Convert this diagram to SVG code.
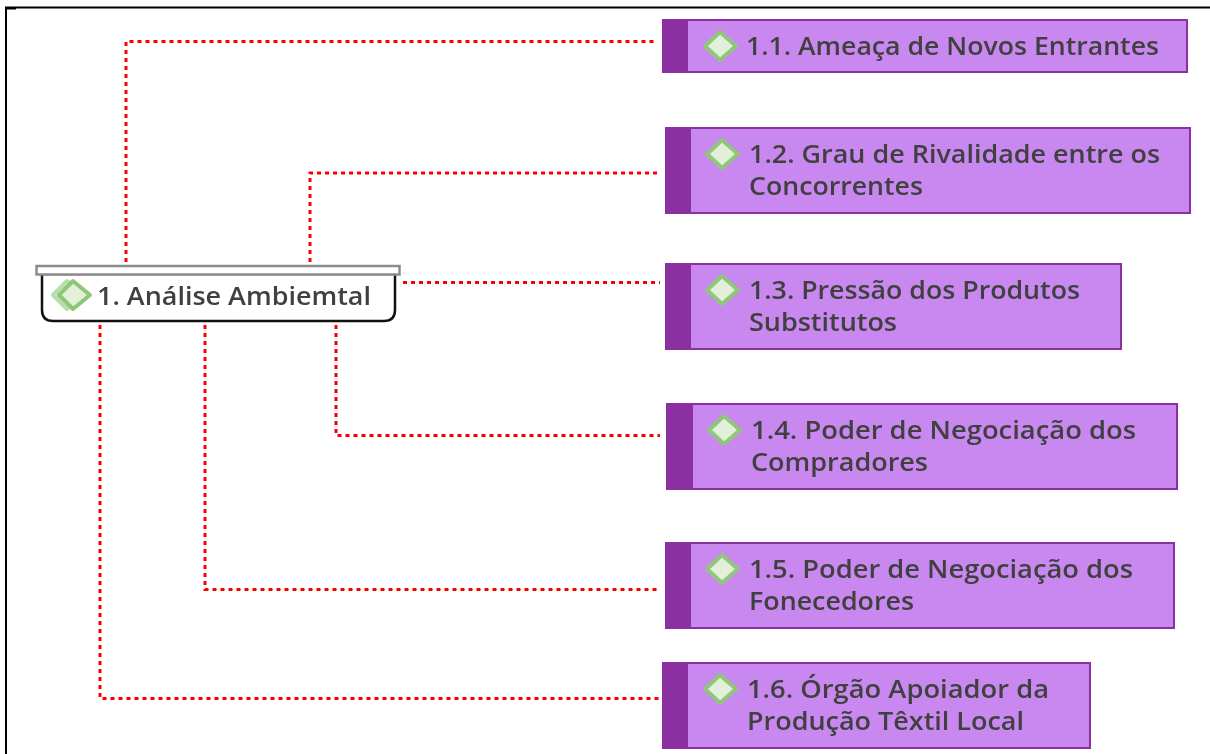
<svg xmlns="http://www.w3.org/2000/svg" width="1210" height="754" viewBox="0 0 1210 754">
<defs><filter id="soft" x="-5%" y="-20%" width="110%" height="140%"><feGaussianBlur stdDeviation="0.35"/></filter>
<filter id="softer" x="-20%" y="-20%" width="140%" height="140%"><feGaussianBlur stdDeviation="0.7"/></filter></defs>
<style>
.t{font-family:"Open Sans","Noto Sans","Liberation Sans",sans-serif;font-size:25px;font-weight:600;fill:#404040;filter:url(#soft)}
.c{fill:none;stroke:#ff0000;stroke-width:3;stroke-dasharray:4 4}
.b{fill:#c888f0;stroke:#8b30a0;stroke-width:2}
.s{fill:#8b30a0}
.d{fill:#e2f0da;stroke:#8fc67c;stroke-width:4;stroke-linejoin:round;filter:url(#softer)}
</style>
<rect width="1210" height="754" fill="#fff"/>
<path d="M6 754V7.500H1210" fill="none" stroke="#000" stroke-width="2"/>
<path d="M6 8.500H16" fill="none" stroke="#000" stroke-width="2"/>
<g id="connectors">
<path class="c" d="M126 262V41.500H656"/>
<path class="c" d="M310 262V173H660"/>
<path class="c" d="M403 282.500H660"/>
<path class="c" d="M336 325V435.500H660"/>
<path class="c" d="M205 325V589.500H660"/>
<path class="c" d="M100 325V698.500H660"/>
</g>
<g id="n1">
<path d="M42 274V310Q42 321 53 321H384Q395 321 395 310V274Z" fill="#fff" stroke="#111" stroke-width="2.500"/>
<rect x="36.500" y="266" width="363" height="8.500" fill="#fff" stroke="#8c8c8c" stroke-width="2.500"/>
<path class="d" d="M67 281L53 295L67 309L81 295Z" style="stroke:#b5dfa8"/>
<path class="d" d="M73 281L59 295L73 309L90 295Z"/>
<text class="t" x="97" y="305" textLength="274" lengthAdjust="spacingAndGlyphs">1. Análise Ambiemtal</text>
</g>
<g id="n1-1">
<rect class="b" x="663" y="20" width="524" height="52"/><rect class="s" x="662" y="19" width="26" height="54"/>
<path class="d" d="M720 32L705 46L720 60L736 46Z"/>
<text class="t" x="746" y="55" textLength="413" lengthAdjust="spacingAndGlyphs">1.1. Ameaça de Novos Entrantes</text>
</g>
<g id="n1-2">
<rect class="b" x="666" y="128" width="524" height="85"/><rect class="s" x="665" y="127" width="26" height="87"/>
<path class="d" d="M722 140L707 154L722 168L738 154Z"/>
<text class="t" x="749" y="163" textLength="411" lengthAdjust="spacingAndGlyphs">1.2. Grau de Rivalidade entre os</text>
<text class="t" x="749" y="195" textLength="174" lengthAdjust="spacingAndGlyphs">Concorrentes</text>
</g>
<g id="n1-3">
<rect class="b" x="666" y="264" width="455" height="85"/><rect class="s" x="665" y="263" width="26" height="87"/>
<path class="d" d="M722 276L707 290L722 304L738 290Z"/>
<text class="t" x="749" y="299" textLength="331" lengthAdjust="spacingAndGlyphs">1.3. Pressão dos Produtos</text>
<text class="t" x="749" y="331" textLength="148" lengthAdjust="spacingAndGlyphs">Substitutos</text>
</g>
<g id="n1-4">
<rect class="b" x="667" y="404" width="510" height="85"/><rect class="s" x="666" y="403" width="27" height="87"/>
<path class="d" d="M724 416L709 430L724 444L740 430Z"/>
<text class="t" x="751" y="439" textLength="385" lengthAdjust="spacingAndGlyphs">1.4. Poder de Negociação dos</text>
<text class="t" x="751" y="471" textLength="177" lengthAdjust="spacingAndGlyphs">Compradores</text>
</g>
<g id="n1-5">
<rect class="b" x="666" y="543" width="508" height="85"/><rect class="s" x="665" y="542" width="26" height="87"/>
<path class="d" d="M722 555L707 569L722 583L738 569Z"/>
<text class="t" x="749" y="578" textLength="384" lengthAdjust="spacingAndGlyphs">1.5. Poder de Negociação dos</text>
<text class="t" x="749" y="610" textLength="165" lengthAdjust="spacingAndGlyphs">Fonecedores</text>
</g>
<g id="n1-6">
<rect class="b" x="663" y="663" width="427" height="85"/><rect class="s" x="662" y="662" width="26" height="87"/>
<path class="d" d="M720 675L705 689L720 703L736 689Z"/>
<text class="t" x="747" y="698" textLength="302" lengthAdjust="spacingAndGlyphs">1.6. Órgão Apoiador da</text>
<text class="t" x="747" y="730" textLength="277" lengthAdjust="spacingAndGlyphs">Produção Têxtil Local</text>
</g>
</svg>
